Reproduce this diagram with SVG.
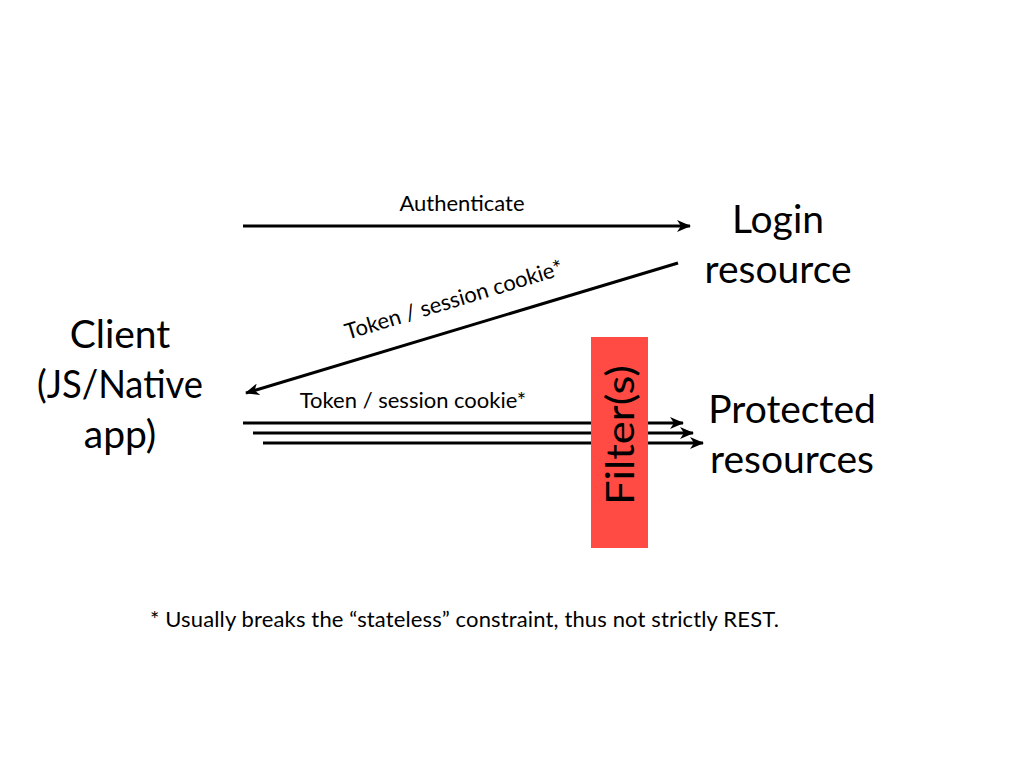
<svg xmlns="http://www.w3.org/2000/svg" width="1024" height="768" viewBox="0 0 1024 768">
<defs>
<marker id="ah" markerWidth="14" markerHeight="12" refX="13" refY="6" orient="auto" markerUnits="userSpaceOnUse">
<path d="M0,0 L14,6 L0,12 L4,6 Z" fill="#000"/>
</marker>
<style>
.big{font-family:Lato,"Open Sans","Liberation Sans",sans-serif;font-size:39px;fill:#000;text-anchor:middle}
.lbl{font-family:Lato,"Open Sans","Liberation Sans",sans-serif;font-size:22px;fill:#000}
.ln{stroke:#000;stroke-width:3;fill:none;marker-end:url(#ah)}
</style>
</defs>
<rect width="1024" height="768" fill="#fff"/>
<g id="connectors">
<line class="ln" x1="243" y1="226" x2="690" y2="226"/>
<line class="ln" x1="678" y1="263" x2="246" y2="393"/>
<line class="ln" x1="243" y1="423" x2="683" y2="423"/>
<line class="ln" x1="253" y1="433" x2="693" y2="433"/>
<line class="ln" x1="263" y1="443" x2="703" y2="443"/>
<text class="lbl" x="462" y="211" text-anchor="middle">Authenticate</text>
<text class="lbl" x="0" y="0" text-anchor="middle" transform="translate(456,307) rotate(-16.8)">Token / session cookie*</text>
<text class="lbl" x="413" y="408" text-anchor="middle">Token / session cookie*</text>
</g>
<g id="filter">
<rect x="591" y="337" width="57" height="211" fill="#ff4b43"/>
<text class="big" x="0" y="0" transform="translate(634,435) rotate(-90)" textLength="140" lengthAdjust="spacingAndGlyphs">Filter(s)</text>
</g>
<g id="client">
<text class="big" x="120" y="348">Client</text>
<text class="big" x="120" y="398" textLength="166" lengthAdjust="spacingAndGlyphs">(JS/Native</text>
<text class="big" x="120" y="448">app)</text>
</g>
<g id="login">
<text class="big" x="778" y="233">Login</text>
<text class="big" x="778" y="283">resource</text>
</g>
<g id="protected">
<text class="big" x="792" y="423">Protected</text>
<text class="big" x="792" y="473">resources</text>
</g>
<text class="lbl" x="150" y="627" textLength="629" lengthAdjust="spacing">* Usually breaks the “stateless” constraint, thus not strictly REST.</text>
</svg>
